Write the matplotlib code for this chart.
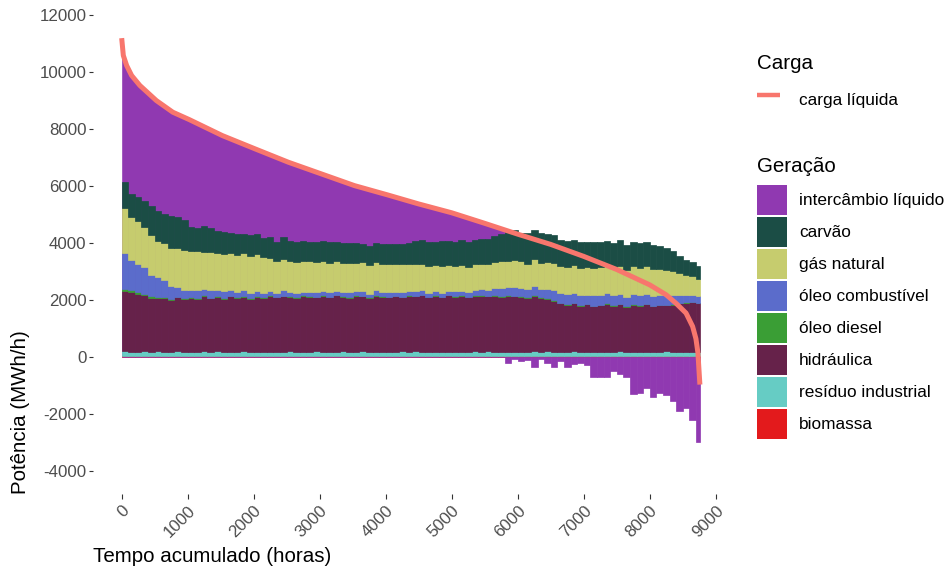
import numpy as np
import matplotlib
matplotlib.use("Agg")
import matplotlib.pyplot as plt
from matplotlib.patches import Patch
from matplotlib.lines import Line2D

plt.rcParams['font.family'] = ['Liberation Sans', 'DejaVu Sans']

# ---------------- data ----------------
HORAS_ANO = 8760
# start hour of each 100-hour block (load-duration order)
horas = list(range(0, 8800, 100))

biomassa = [30,25,35,30,20,30,35,25,30,30,
            25,30,35,30,25,20,30,35,30,25,
            30,25,30,35,30,25,30,20,30,35,
            30,25,30,30,35,25,30,20,30,30,
            25,30,35,30,25,30,30,20,30,35,
            30,25,30,30,25,35,30,25,30,30,
            20,30,35,30,25,30,30,25,35,30,
            30,25,30,20,30,35,30,25,30,30,
            25,30,35,30,25,30,30,25]
residuo = [170,160,150,175,155,165,150,160,170,155,
           160,150,165,155,170,150,160,145,165,155,
           150,165,160,155,150,170,155,160,150,165,
           155,160,150,165,155,150,170,160,155,150,
           165,155,160,150,170,155,150,165,160,155,
           150,160,155,170,150,165,155,160,150,155,
           165,150,160,155,170,150,160,155,165,150,
           155,160,150,170,155,160,150,165,155,160,
           150,155,165,150,160,150,145,140]
hidraulica = [2100,2080,2020,1960,1900,1870,1880,1820,1890,1850,
              1900,1860,1940,1880,1920,1870,1950,1890,1910,1860,
              1930,1880,1950,1900,1960,1920,1880,1970,1930,1900,
              1950,1910,1980,1920,1890,1960,1930,1900,1970,1940,
              1910,1950,1900,1960,1940,1980,1920,1950,1900,1970,
              1940,1960,1910,1950,1980,1930,1960,1920,1970,1950,
              1930,1900,1950,1880,1850,1800,1700,1650,1680,1620,
              1660,1600,1640,1680,1610,1650,1590,1640,1620,1660,
              1600,1640,1620,1660,1700,1720,1750,1730]
diesel = [90,80,70,50,50,40,40,30,30,30,
          20,25,20,15,25,20,15,20,25,20,
          15,20,25,20,15,20,25,15,20,20,
          25,15,20,20,15,25,20,15,20,25,
          20,15,25,20,20,15,20,25,15,20,
          20,25,15,20,20,15,25,20,20,15,
          20,15,20,25,15,20,20,15,25,20,
          15,20,20,25,15,20,15,20,20,25,
          20,15,20,20,15,20,15,10]
oleo_comb = [1250,1050,1000,950,750,700,600,450,350,300,
             250,280,220,260,200,240,210,180,220,190,
             200,170,160,150,180,140,160,130,150,170,
             140,160,130,150,170,140,150,130,160,140,
             150,130,160,140,150,170,140,160,150,130,
             160,150,170,180,200,220,250,280,300,320,
             300,280,320,300,340,350,330,360,340,350,
             330,360,350,340,370,350,330,360,340,350,
             360,340,330,300,280,260,250,240]
gas = [1600,1500,1500,1400,1400,1250,1300,1350,1350,1400,
       1350,1380,1320,1360,1300,1330,1280,1310,1290,1300,
       1280,1250,1150,1100,1120,1080,1100,1060,1090,1050,
       1080,1040,1060,1020,1050,1000,1030,990,1010,980,
       1000,970,990,960,950,920,940,900,930,910,
       900,920,890,910,880,900,920,950,900,930,
       920,900,940,910,930,950,960,940,970,950,
       980,950,970,940,960,990,950,970,940,960,
       930,900,880,850,750,700,650,600]
carvao = [900,810,850,920,1020,1070,1000,1100,1100,1050,
          850,800,880,820,780,760,700,740,680,720,
          700,680,720,690,740,700,680,710,660,700,
          690,720,660,700,680,710,650,690,670,700,
          680,720,700,750,800,820,850,830,870,850,
          840,880,860,850,890,870,900,950,1000,1050,
          1000,1080,1020,1050,1000,980,900,920,880,900,
          870,910,880,900,860,890,870,850,880,860,
          840,800,760,700,600,520,480,450]
# net interchange when negative (exports), per 100-hour block
intercambio_neg = [0]*50 + [0,0,0,0,0,0,0,0,-200,-60,
                            -150,-100,-350,-80,-200,-350,-150,-350,-250,-200,
                            -300,-700,-700,-700,-500,-600,-700,-1300,-1250,-1100,
                            -1400,-1250,-1350,-1550,-1900,-1800,-2200,-3000]

# net load (sorted, load-duration curve)
carga_horas = [0, 25, 75, 150, 275, 525, 775, 1025, 1525, 2025, 2525, 3025, 3525,
               4025, 4500, 5000, 5500, 6000, 6500, 7000, 7500, 8000, 8250, 8400,
               8550, 8650, 8700, 8730, 8760]
carga = [11190, 10580, 10230, 9880, 9530, 9000, 8590, 8330, 7770, 7300, 6835, 6425, 6015,
         5690, 5370, 5060, 4690, 4310, 3950, 3530, 3070, 2530, 2180, 1880,
         1540, 1070, 640, 150, -970]

x_ticks = [0, 1000, 2000, 3000, 4000, 5000, 6000, 7000, 8000, 9000]
y_ticks = [-4000, -2000, 0, 2000, 4000, 6000, 8000, 10000, 12000]

cores = {
    'intercâmbio líquido': '#9039B1',
    'carvão': '#1B4D45',
    'gás natural': '#C6CC6E',
    'óleo combustível': '#5B6CCB',
    'óleo diesel': '#3A9E35',
    'hidráulica': '#66224A',
    'resíduo industrial': '#66CCC4',
    'biomassa': '#E31A1C',
}
cor_carga = '#F8766D'

camadas = [('biomassa', biomassa), ('resíduo industrial', residuo),
           ('hidráulica', hidraulica), ('óleo diesel', diesel),
           ('óleo combustível', oleo_comb), ('gás natural', gas),
           ('carvão', carvao)]

# ---------------- figure ----------------
W, H = 947, 574
fig = plt.figure(figsize=(W/100, H/100), dpi=100)
ax = fig.add_axes([93.3/W, 1-493.5/H, (728.8-93.3)/W, (493.5-13.5)/H])

# positive net interchange fills the gap between generation and load
ax.fill_between(carga_horas, 0, carga, color=cores['intercâmbio líquido'],
                linewidth=0, zorder=1)

edges = np.array(horas + [HORAS_ANO])
larg = np.diff(edges)
base = np.zeros(len(horas))
for nome, vals in camadas:
    v = np.array(vals, dtype=float)
    ax.bar(horas, v, width=larg, bottom=base, align='edge', color=cores[nome],
           edgecolor=cores[nome], linewidth=0.5, zorder=2)
    base += v
ax.bar(horas, intercambio_neg, width=larg, bottom=0, align='edge',
       color=cores['intercâmbio líquido'], edgecolor=cores['intercâmbio líquido'],
       linewidth=0.5, zorder=2)

ax.plot(carga_horas, carga, color=cor_carga, lw=3.6, solid_capstyle='butt',
        solid_joinstyle='round', zorder=4)

ax.set_xlim(-430, 9198)
ax.set_ylim(-4793, 12055)
for s in ax.spines.values():
    s.set_visible(False)

ax.set_yticks(y_ticks)
ax.set_yticklabels([str(t) for t in y_ticks])
ax.set_xticks(x_ticks)
ax.set_xticklabels([str(t) for t in x_ticks], rotation=45, ha='right', va='top',
                   rotation_mode='anchor')
ax.tick_params(axis='both', colors='#333333', labelcolor='#4D4D4D',
               labelsize=12.2, width=0.8)
ax.tick_params(axis='y', length=2.7, pad=2.2)
ax.tick_params(axis='x', length=3.6, pad=3.0)

fig.text(93.3/W, 1-557/H, 'Tempo acumulado (horas)', ha='left', va='center',
         fontsize=14.8, color='black')
fig.text(21/W, 1-493.5/H, 'Potência (MWh/h)', ha='center', va='bottom',
         rotation=90, fontsize=14.8, color='black')

# ---------------- legends ----------------
fs = 12.4
fpx = fs * 100 / 72
hh = (30 / fpx - 0.245) / 0.65   # handleheight giving 30 px keys

fig.text(757/W, 1-69/H, 'Carga', ha='left', va='baseline', fontsize=14.8)
h_carga = [Line2D([0], [0], color=cor_carga, lw=3.2, solid_capstyle='butt')]
leg1 = fig.legend(h_carga, ['carga líquida'], loc='upper left',
                  bbox_to_anchor=(757/W, 1-85/H), frameon=False, fontsize=fs,
                  borderpad=0, borderaxespad=0, handlelength=23/fpx,
                  handleheight=hh, handletextpad=19/fpx)

fig.text(757/W, 1-172/H, 'Geração', ha='left', va='baseline', fontsize=14.8)
ordem = ['intercâmbio líquido', 'carvão', 'gás natural', 'óleo combustível',
         'óleo diesel', 'hidráulica', 'resíduo industrial', 'biomassa']
h_ger = [Patch(facecolor=cores[n], edgecolor='none') for n in ordem]
leg2 = fig.legend(h_ger, ordem, loc='upper left',
                  bbox_to_anchor=(757/W, 1-185/H), frameon=False, fontsize=fs,
                  borderpad=0, borderaxespad=0, handlelength=30/fpx,
                  handleheight=hh, handletextpad=12/fpx,
                  labelspacing=2/fpx)

fig.savefig('out.png', dpi=100)
